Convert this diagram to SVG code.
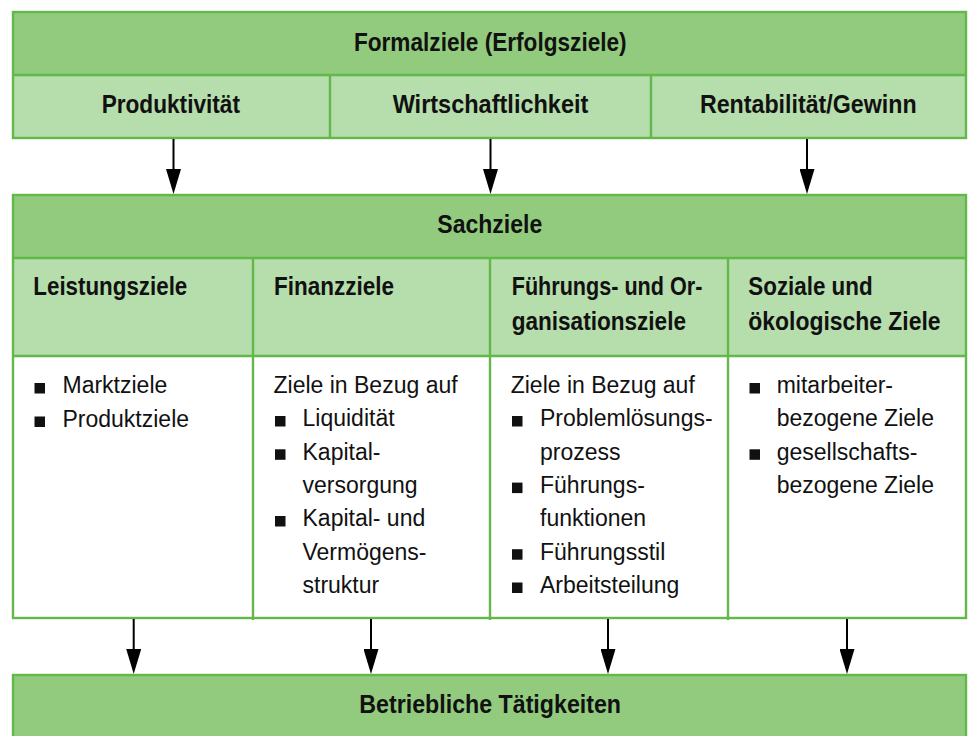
<svg xmlns="http://www.w3.org/2000/svg" width="968" height="736" viewBox="0 0 968 736">
  <defs>
    <style>
      .dark { fill: #92cb7e; }
      .light { fill: #b6ddac; }
      .white { fill: #ffffff; }
      .edge { fill: none; stroke: #62b94a; stroke-width: 2.4; }
      .rule { stroke: #62b94a; stroke-width: 2.4; }
      .hd { font-family: "Liberation Sans", "DejaVu Sans", sans-serif; font-weight: bold; font-size: 25px; fill: #111; }
      .mid { text-anchor: middle; }
      .tx { font-family: "Liberation Sans", "DejaVu Sans", sans-serif; font-size: 23px; fill: #111; }
      .bul { fill: #111; }
      .arrow { stroke: #000; stroke-width: 2; marker-end: url(#head); }
    </style>
    <marker id="head" viewBox="0 0 25 15" refX="17" refY="7.5" markerWidth="25" markerHeight="15" markerUnits="userSpaceOnUse" orient="auto">
      <path d="M0,0 L25,7.5 L0,15 z" fill="#000"/>
    </marker>
  </defs>

  <rect width="968" height="736" fill="#ffffff"/>

  <!-- Formal goals -->
  <g id="formalziele">
    <rect class="dark" x="13" y="12" width="953" height="63"/>
    <text class="hd mid" x="490.3" y="50.5" textLength="272.7" lengthAdjust="spacingAndGlyphs">Formalziele (Erfolgsziele)</text>
  </g>
  <g id="produktivitaet">
    <rect class="light" x="13" y="75" width="317" height="63"/>
    <text class="hd mid" x="170.8" y="112.5" textLength="138.3" lengthAdjust="spacingAndGlyphs">Produktivität</text>
  </g>
  <g id="wirtschaftlichkeit">
    <rect class="light" x="330" y="75" width="321" height="63"/>
    <text class="hd mid" x="490.5" y="112.5" textLength="195.7" lengthAdjust="spacingAndGlyphs">Wirtschaftlichkeit</text>
  </g>
  <g id="rentabilitaet">
    <rect class="light" x="651" y="75" width="315" height="63"/>
    <text class="hd mid" x="808.3" y="112.5" textLength="216.7" lengthAdjust="spacingAndGlyphs">Rentabilität/Gewinn</text>
  </g>
  <g id="formal-frame">
    <rect class="edge" x="13" y="12" width="953" height="126"/>
    <line class="rule" x1="13" y1="75" x2="966" y2="75"/>
    <line class="rule" x1="330" y1="75" x2="330" y2="138"/>
    <line class="rule" x1="651" y1="75" x2="651" y2="138"/>
  </g>

  <!-- Material goals -->
  <g id="sachziele">
    <rect class="dark" x="13" y="195" width="953" height="63"/>
    <text class="hd mid" x="489.8" y="232.7" textLength="105" lengthAdjust="spacingAndGlyphs">Sachziele</text>
  </g>

  <g id="leistungsziele">
    <rect class="light" x="13" y="258" width="240" height="98"/>
    <rect class="white" x="13" y="356" width="240" height="262"/>
    <text class="hd" x="33.3" y="295" textLength="154" lengthAdjust="spacingAndGlyphs">Leistungsziele</text>
    <rect class="bul" x="34.5" y="383" width="10.5" height="10.5"/>
    <text class="tx" x="62.5" y="393">Marktziele</text>
    <rect class="bul" x="34.5" y="416.5" width="10.5" height="10.5"/>
    <text class="tx" x="62.5" y="426.5">Produktziele</text>
  </g>

  <g id="finanzziele">
    <rect class="light" x="253" y="258" width="237" height="98"/>
    <rect class="white" x="253" y="356" width="237" height="262"/>
    <text class="hd" x="274" y="295" textLength="120" lengthAdjust="spacingAndGlyphs">Finanzziele</text>
    <text class="tx" x="273.5" y="393">Ziele in Bezug auf</text>
    <rect class="bul" x="275" y="416" width="10.5" height="10.5"/>
    <text class="tx" x="302.5" y="426.3">Liquidität</text>
    <rect class="bul" x="275" y="449.3" width="10.5" height="10.5"/>
    <text class="tx" x="302.5" y="459.6">Kapital-</text>
    <text class="tx" x="302.5" y="492.9">versorgung</text>
    <rect class="bul" x="275" y="516" width="10.5" height="10.5"/>
    <text class="tx" x="302.5" y="526.2">Kapital- und</text>
    <text class="tx" x="302.5" y="559.5">Vermögens-</text>
    <text class="tx" x="302.5" y="592.8">struktur</text>
  </g>

  <g id="fuehrungsziele">
    <rect class="light" x="490" y="258" width="238" height="98"/>
    <rect class="white" x="490" y="356" width="238" height="262"/>
    <text class="hd" x="511.7" y="295" textLength="190.7" lengthAdjust="spacingAndGlyphs">Führungs- und Or-</text>
    <text class="hd" x="511.7" y="330" textLength="174.3" lengthAdjust="spacingAndGlyphs">ganisationsziele</text>
    <text class="tx" x="510.7" y="393">Ziele in Bezug auf</text>
    <rect class="bul" x="512" y="416" width="10.5" height="10.5"/>
    <text class="tx" x="540" y="426.3">Problemlösungs-</text>
    <text class="tx" x="540" y="459.6">prozess</text>
    <rect class="bul" x="512" y="482.6" width="10.5" height="10.5"/>
    <text class="tx" x="540" y="492.9">Führungs-</text>
    <text class="tx" x="540" y="526.2">funktionen</text>
    <rect class="bul" x="512" y="549.2" width="10.5" height="10.5"/>
    <text class="tx" x="540" y="559.5">Führungsstil</text>
    <rect class="bul" x="512" y="582.5" width="10.5" height="10.5"/>
    <text class="tx" x="540" y="592.8">Arbeitsteilung</text>
  </g>

  <g id="sozialziele">
    <rect class="light" x="728" y="258" width="238" height="98"/>
    <rect class="white" x="728" y="356" width="238" height="262"/>
    <text class="hd" x="748.3" y="295" textLength="124.3" lengthAdjust="spacingAndGlyphs">Soziale und</text>
    <text class="hd" x="748.3" y="330" textLength="192.3" lengthAdjust="spacingAndGlyphs">ökologische Ziele</text>
    <rect class="bul" x="749.5" y="383" width="10.5" height="10.5"/>
    <text class="tx" x="776.7" y="393">mitarbeiter-</text>
    <text class="tx" x="776.7" y="426.3">bezogene Ziele</text>
    <rect class="bul" x="749.5" y="449.3" width="10.5" height="10.5"/>
    <text class="tx" x="776.7" y="459.6">gesellschafts-</text>
    <text class="tx" x="776.7" y="492.9">bezogene Ziele</text>
  </g>

  <g id="sach-frame">
    <rect class="edge" x="13" y="195" width="953" height="423"/>
    <line class="rule" x1="13" y1="258" x2="966" y2="258"/>
    <line class="rule" x1="13" y1="356" x2="966" y2="356"/>
    <line class="rule" x1="253" y1="258" x2="253" y2="620"/>
    <line class="rule" x1="490" y1="258" x2="490" y2="620"/>
    <line class="rule" x1="728" y1="258" x2="728" y2="620"/>
  </g>

  <!-- Business activities -->
  <g id="betriebliche-taetigkeiten">
    <rect class="dark" x="13" y="675" width="953" height="70"/>
    <rect class="edge" x="13" y="675" width="953" height="70"/>
    <text class="hd mid" x="490.2" y="713.3" textLength="261.7" lengthAdjust="spacingAndGlyphs">Betriebliche Tätigkeiten</text>
  </g>

  <!-- Connectors -->
  <g id="connectors">
    <line class="arrow" x1="173.5" y1="139" x2="173.5" y2="186"/>
    <line class="arrow" x1="490.5" y1="139" x2="490.5" y2="186"/>
    <line class="arrow" x1="807" y1="139" x2="807" y2="186"/>
    <line class="arrow" x1="133.7" y1="619" x2="133.7" y2="666"/>
    <line class="arrow" x1="371" y1="619" x2="371" y2="666"/>
    <line class="arrow" x1="608" y1="619" x2="608" y2="666"/>
    <line class="arrow" x1="847" y1="619" x2="847" y2="666"/>
  </g>
</svg>
